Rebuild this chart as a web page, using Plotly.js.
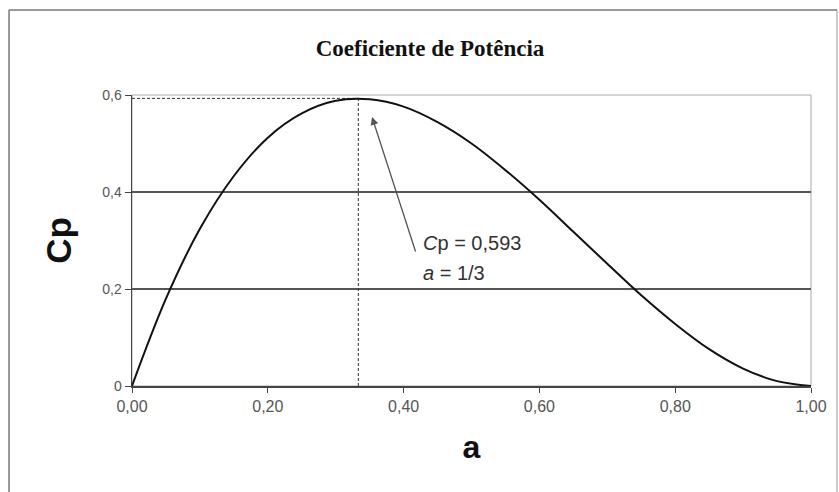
<!DOCTYPE html>
<html>
<head>
<meta charset="utf-8">
<script src="https://cdn.plot.ly/plotly-3.0.1.min.js"></script>
<style>html,body{margin:0;padding:0;background:#fff;}#chart{width:839px;height:492px;}</style>
</head>
<body>
<div id="chart"></div>
<script>
// Values
const aValues  = [0, 0.05, 0.10, 0.15, 0.20, 0.25, 0.30, 0.35, 0.40, 0.45, 0.50, 0.55, 0.60, 0.65, 0.70, 0.75, 0.80, 0.85, 0.90, 0.95, 1.00];
const cpValues = [0, 0.180, 0.324, 0.433, 0.512, 0.562, 0.588, 0.591, 0.576, 0.544, 0.500, 0.445, 0.384, 0.318, 0.252, 0.187, 0.128, 0.076, 0.036, 0.010, 0];
const xTickVals = [0, 0.2, 0.4, 0.6, 0.8, 1.0];
const xTickText = ["0,00", "0,20", "0,40", "0,60", "0,80", "1,00"];
const yTickVals = [0, 0.2, 0.4, 0.6];
const yTickText = ["0", "0,2", "0,4", "0,6"];
const peakA = 0.3333;
const peakCp = 0.593;
const chartTitle = "Coeficiente de Potência";
const noteLine1 = "<i>C</i>p = 0,593";
const noteLine2 = "<i>a</i> = 1/3";

const traces = [
  {
    x: [0, peakA], y: [peakCp, peakCp], mode: "lines",
    line: {color: "#333", width: 1, dash: "3px,2px"}, hoverinfo: "skip", showlegend: false
  },
  {
    x: [peakA, peakA], y: [0, peakCp], mode: "lines",
    line: {color: "#333", width: 1, dash: "3px,2px"}, hoverinfo: "skip", showlegend: false
  },
  {
    x: aValues, y: cpValues, mode: "lines",
    line: {color: "#111", width: 2, shape: "spline", smoothing: 1}, showlegend: false
  }
];

const layout = {
  width: 839, height: 492,
  paper_bgcolor: "#fff", plot_bgcolor: "#fff",
  margin: {l: 132, r: 28, t: 95, b: 106},
  title: {text: "<b>" + chartTitle + "</b>", x: 0.5125, xanchor: "center", y: 0.902, yanchor: "middle",
          font: {family: "Liberation Serif, Times New Roman, serif", size: 23, color: "#111"}},
  xaxis: {
    range: [0, 1], tickvals: xTickVals, ticktext: xTickText,
    showgrid: false, zeroline: false,
    showline: true, linecolor: "#444", linewidth: 1.5, mirror: false,
    ticks: "outside", ticklen: 5, tickcolor: "#444",
    tickfont: {family: "Liberation Sans, Arial, sans-serif", size: 16, color: "#555"},
    title: {text: "<b>a</b>", standoff: 22, font: {family: "Liberation Sans, Arial, sans-serif", size: 32, color: "#111"}},
    automargin: false
  },
  yaxis: {
    range: [0, 0.6], tickvals: yTickVals, ticktext: yTickText,
    showgrid: true, gridcolor: "#555", gridwidth: 1.2, zeroline: false,
    showline: true, linecolor: "#444", linewidth: 1.5,
    ticks: "outside", ticklen: 6, tickcolor: "#444",
    tickfont: {family: "Liberation Sans, Arial, sans-serif", size: 14, color: "#555"},
    title: {text: "<b>Cp</b>", standoff: 20, font: {family: "Liberation Sans, Arial, sans-serif", size: 35, color: "#111"}},
    automargin: false
  },
  shapes: [
    // plot area border (top/right)
    {type: "rect", xref: "paper", yref: "paper", x0: 0, x1: 1, y0: 0, y1: 1, line: {color: "#aaa", width: 1}, layer: "below"},
    // outer chart frame
    {type: "line", xref: "paper", yref: "paper", x0: -0.1811, x1: 1.0383, y0: 1.2921, y1: 1.2921, line: {color: "#777", width: 1.5}},
    {type: "line", xref: "paper", yref: "paper", x0: -0.1811, x1: -0.1811, y0: -0.4, y1: 1.2921, line: {color: "#777", width: 1.5}},
    {type: "line", xref: "paper", yref: "paper", x0: 1.0383, x1: 1.0383, y0: -0.4, y1: 1.2921, line: {color: "#999", width: 1}}
  ],
  annotations: [
    {x: 0.3535, y: 0.5546, ax: 44, ay: 136, axref: "pixel", ayref: "pixel",
     xref: "x", yref: "y", text: "", showarrow: true, arrowhead: 2, arrowsize: 1.2, arrowwidth: 1.3, arrowcolor: "#555"},
    {x: 0.426, y: 0.294, xref: "x", yref: "y", xanchor: "left", yanchor: "middle", showarrow: false,
     text: noteLine1, font: {family: "Liberation Sans, Arial, sans-serif", size: 20, color: "#333"}},
    {x: 0.426, y: 0.232, xref: "x", yref: "y", xanchor: "left", yanchor: "middle", showarrow: false,
     text: noteLine2, font: {family: "Liberation Sans, Arial, sans-serif", size: 20, color: "#333"}}
  ]
};

Plotly.newPlot("chart", traces, layout, {displayModeBar: false, staticPlot: true});
</script>
</body>
</html>
